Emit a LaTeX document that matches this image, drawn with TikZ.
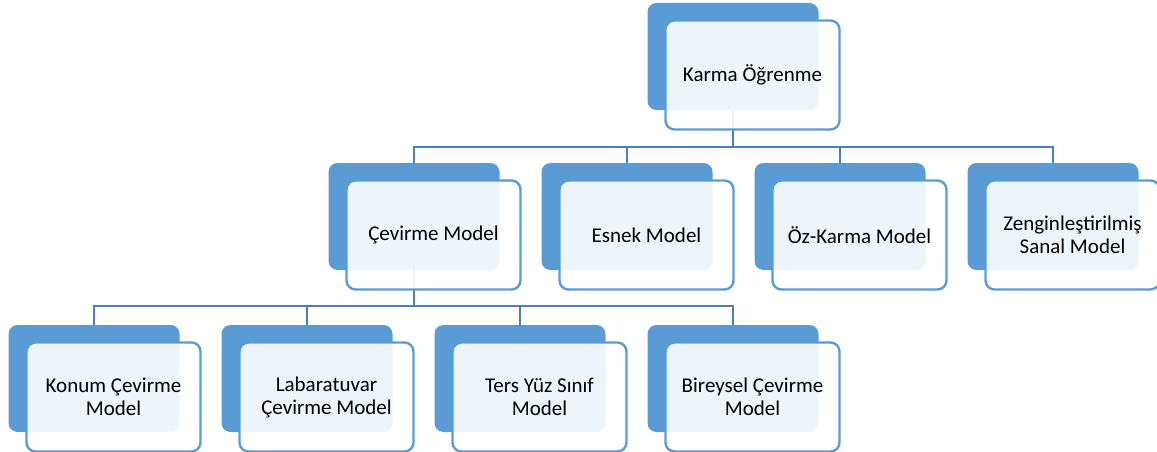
\documentclass[tikz,border=0pt]{standalone}
\usepackage{fontspec}
\setmainfont{Carlito}
\definecolor{blu}{HTML}{5B9BD5}
\definecolor{connc}{HTML}{4A80BA}
\begin{document}
\begin{tikzpicture}[x=1pt,y=-1pt,
 backbox/.style={draw=none,fill=blu,rounded corners=9pt,minimum width=171pt,minimum height=107pt,inner sep=0pt},
 frontbox/.style={draw=blu,line width=2.4pt,fill=white,fill opacity=0.9,text opacity=1,rounded corners=9pt,minimum width=174pt,minimum height=109pt,align=center,font=\fontsize{21}{23}\selectfont,inner sep=0pt},
 connline/.style={draw=connc,line width=2.7pt}]
\useasboundingbox (0,0) rectangle (1157,452);
% back boxes
\node[backbox] (kb) at (733,56.5) {};
\node[backbox] (c1b) at (414,216.5) {};
\node[backbox] (c2b) at (627,216.5) {};
\node[backbox] (c3b) at (840,216.5) {};
\node[backbox] (c4b) at (1053,216.5) {};
\node[backbox] (d1b) at (94,378.5) {};
\node[backbox] (d2b) at (307,378.5) {};
\node[backbox] (d3b) at (520,378.5) {};
\node[backbox] (d4b) at (733,378.5) {};
\coordinate (bar1) at (0,147);
\coordinate (bar2) at (0,306);
% connectors
\draw[connline] (kb.south) -- (kb.south|-bar1);
\draw[connline] (c1b.north) -- (c1b.north|-bar1) -- (c4b.north|-bar1) -- (c4b.north);
\draw[connline] (c2b.north) -- (c2b.north|-bar1);
\draw[connline] (c3b.north) -- (c3b.north|-bar1);
\draw[connline] (c1b.south) -- (c1b.south|-bar2);
\draw[connline] (d1b.north) -- (d1b.north|-bar2) -- (d4b.north|-bar2) -- (d4b.north);
\draw[connline] (d2b.north) -- (d2b.north|-bar2);
\draw[connline] (d3b.north) -- (d3b.north|-bar2);
% front boxes
\node[frontbox] (kf) at ([shift={(19.5,18.5)}]kb.center) {Karma Öğrenme};
\node[frontbox] (c1f) at ([shift={(19.5,18.5)}]c1b.center) {Çevirme Model};
\node[frontbox] (c2f) at ([shift={(19.5,18.5)}]c2b.center) {Esnek Model};
\node[frontbox] (c3f) at ([shift={(19.5,18.5)}]c3b.center) {Öz-Karma Model};
\node[frontbox] (c4f) at ([shift={(19.5,18.5)}]c4b.center) {Zenginleştirilmiş\\Sanal Model};
\node[frontbox] (d1f) at ([shift={(19.5,18.5)}]d1b.center) {Konum Çevirme\\Model};
\node[frontbox] (d2f) at ([shift={(19.5,18.5)}]d2b.center) {Labaratuvar\\Çevirme Model};
\node[frontbox] (d3f) at ([shift={(19.5,18.5)}]d3b.center) {Ters Yüz Sınıf\\Model};
\node[frontbox] (d4f) at ([shift={(19.5,18.5)}]d4b.center) {Bireysel Çevirme\\Model};
\end{tikzpicture}
\end{document}
